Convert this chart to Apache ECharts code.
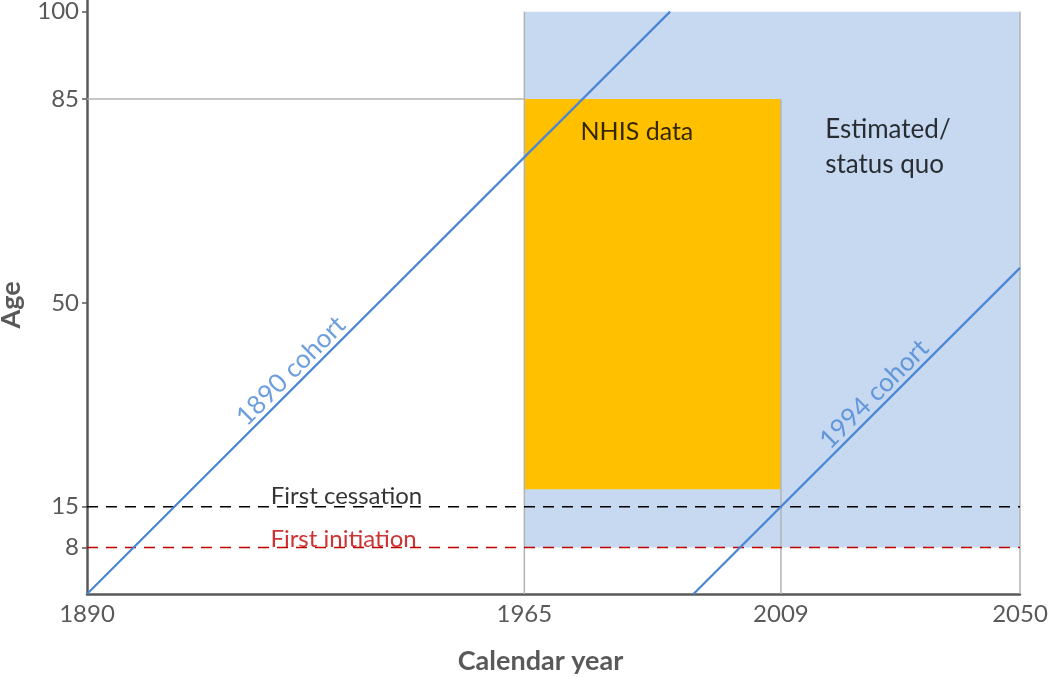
<!DOCTYPE html>
<html>
<head>
<meta charset="utf-8">
<script src="https://cdn.jsdelivr.net/npm/echarts@6/dist/echarts.min.js"></script>
<style>
html,body{margin:0;padding:0;background:#fff;}
#chart{width:1050px;height:677px;}
</style>
</head>
<body>
<div id="chart"></div>
<script>
// ---- data ----
const xTickYears = [1890, 1965, 2009, 2050];
const yTickAges = [8, 15, 50, 85, 100];
const estimatedRegion = [1965, 8, 2050, 100];   // x0, y0, x1, y1
const nhisRegion = [1965, 18, 2009, 85];
const cohort1890 = [[1890, 0], [1990, 100]];
const cohort1994 = [[1994, 0], [2050, 56]];
const ageLine85 = [[1890, 85], [1965, 85]];
const yearLine1965 = [[1965, 0], [1965, 100]];
const yearLine2009 = [[2009, 0], [2009, 85]];
const yearLine2050 = [[2050, 0], [2050, 100]];
const cessationLine = [[1890, 15], [2050, 15]];
const initiationLine = [[1890, 8], [2050, 8]];
const labelNHIS = [1984.3, 79.3];
const labelEstimated = [2026.7, 76.8];
const label1890 = [1925, 38.3];
const label1994 = [2025, 34.3];
const labelCessation = [1934.5, 15];
const labelInitiation = [1934, 8];

const FONT = 'Lato';
const AXIS = '#595959';
const BLUE = '#4a86d4';
const GRAY = '#b3b3b3';

function seg(data, color, width, type, z) {
  return {type: 'line', data: data, symbol: 'none', silent: true, z: z,
    lineStyle: {color: color, width: width, type: type || 'solid'}, animation: false};
}
function txt(pt, text, style, z) {
  return {type: 'scatter', data: [pt], symbolSize: 0, silent: true, z: z || 10, animation: false,
    label: Object.assign({show: true, position: 'inside', formatter: text, fontFamily: FONT}, style)};
}

const chart = echarts.init(document.getElementById('chart'));
chart.setOption({
  animation: false,
  grid: {left: 87, right: 30, top: 0, bottom: 83, containLabel: false, outerBoundsMode: 'none'},
  xAxis: {
    type: 'value', min: 1890, max: 2050, splitLine: {show: false},
    axisLine: {show: true, lineStyle: {color: AXIS, width: 2.5}},
    axisTick: {show: false},
    axisLabel: {customValues: xTickYears, formatter: function (v) { return String(v); },
      color: AXIS, fontSize: 24, fontFamily: FONT, margin: 8},
    name: 'Calendar year', nameLocation: 'middle', nameGap: 54,
    nameTextStyle: {color: AXIS, fontSize: 27, fontWeight: 'bold', fontFamily: FONT, padding: [0, 26, 0, 0]}
  },
  yAxis: {
    type: 'value', min: 0, max: 102, splitLine: {show: false},
    axisLine: {show: true, lineStyle: {color: AXIS, width: 2.5}},
    axisTick: {show: true, customValues: yTickAges, length: 5, lineStyle: {color: AXIS, width: 1.5}},
    axisLabel: {customValues: yTickAges, formatter: function (v) { return String(v); },
      color: AXIS, fontSize: 24, fontFamily: FONT, margin: 8},
    name: 'Age', nameLocation: 'middle', nameGap: 62, nameRotate: 90,
    nameTextStyle: {color: AXIS, fontSize: 27, fontWeight: 'bold', fontFamily: FONT, padding: [0, 16, 0, 0]}
  },
  series: [
    {type: 'custom', silent: true, z: 1, animation: false,
      data: [estimatedRegion, nhisRegion],
      encode: {x: [0, 2], y: [1, 3]},
      renderItem: function (params, api) {
        const p0 = api.coord([api.value(0), api.value(3)]);
        const p1 = api.coord([api.value(2), api.value(1)]);
        return {type: 'rect', shape: {x: p0[0], y: p0[1], width: p1[0] - p0[0], height: p1[1] - p0[1]},
          style: {fill: params.dataIndex === 0 ? '#c6d9f0' : '#ffc000'}};
      }},
    seg(ageLine85, GRAY, 1.5, 'solid', 2),
    seg(yearLine1965, GRAY, 1.5, 'solid', 2),
    seg(yearLine2009, GRAY, 1.5, 'solid', 2),
    seg(yearLine2050, GRAY, 1.5, 'solid', 2),
    seg(cessationLine, '#000000', 1.5, [11, 8], 3),
    seg(initiationLine, '#c00000', 1.5, [11, 8], 3),
    seg(cohort1890, BLUE, 2.2, 'solid', 4),
    seg(cohort1994, BLUE, 2.2, 'solid', 4),
    txt(labelNHIS, 'NHIS data', {color: '#000', fontSize: 25}),
    txt(labelEstimated, 'Estimated/\nstatus quo', {color: '#000', fontSize: 26, lineHeight: 35, align: 'left', offset: [-59, 0]}),
    txt(label1890, '1890 cohort', {color: BLUE, fontSize: 26, rotate: 45}),
    txt(label1994, '1994 cohort', {color: BLUE, fontSize: 26, rotate: 45}),
    txt(labelCessation, 'First cessation', {color: '#000', fontSize: 24, offset: [0, -10]}),
    txt(labelInitiation, 'First initiation', {color: '#c00000', fontSize: 24, offset: [0, -8]})
  ]
});
</script>
</body>
</html>
